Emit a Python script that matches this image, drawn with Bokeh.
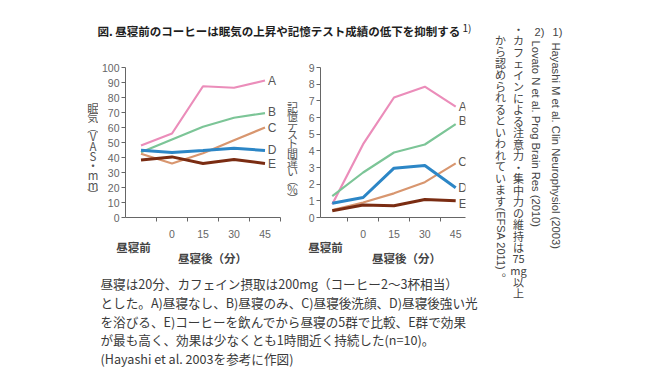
import math
from bokeh.plotting import figure
from bokeh.models import Range1d, FixedTicker, ColumnDataSource, LabelSet
from bokeh.layouts import row, column
from bokeh.core.properties import value
from bokeh.embed import file_html
from bokeh.resources import INLINE

# ---------------- data ----------------
categories = ["昼寝前", "0", "15", "30", "45"]
groups = ["A", "B", "C", "D", "E"]

sleepiness_A = [48.0, 56.0, 87.5, 86.5, 91.3]
sleepiness_B = [43.5, 52.0, 60.5, 66.5, 69.6]
sleepiness_C = [42.5, 36.0, 42.8, 51.5, 60.0]
sleepiness_D = [44.8, 43.3, 44.6, 46.2, 44.7]
sleepiness_E = [38.3, 40.4, 36.0, 38.7, 36.0]

errors_A = [0.80, 4.40, 7.20, 7.85, 6.65]
errors_B = [1.28, 2.70, 3.90, 4.38, 5.60]
errors_C = [0.45, 0.90, 1.45, 2.12, 3.25]
errors_D = [0.85, 1.20, 2.96, 3.12, 1.78]
errors_E = [0.40, 0.75, 0.70, 1.08, 1.00]

sleepiness_yticks = list(range(0, 101, 10))
errors_yticks = list(range(0, 10))

sleepiness_ylabel = ["眠", "気", "︵", "V", "A", "S", "・", "m", "m", "︶"]
errors_ylabel = ["記", "憶", "テ", "ス", "ト", "間", "違", "い", "︵", "％", "︶"]
x_title = "昼寝後（分）"

title_text = "図. 昼寝前のコーヒーは眠気の上昇や記憶テスト成績の低下を抑制する"
title_ref = "1)"

caption_lines = [
    "昼寝は20分、カフェイン摂取は200mg（コーヒー2～3杯相当）",
    "とした。A)昼寝なし、B)昼寝のみ、C)昼寝後洗顔、D)昼寝後強い光",
    "を浴びる、E)コーヒーを飲んでから昼寝の5群で比較、E群で効果",
    "が最も高く、効果は少なくとも1時間近く持続した(n=10)。",
    "(Hayashi et al. 2003を参考に作図)",
]

ref1 = "Hayashi M et al. Clin Neurophysiol (2003)"
ref2 = "Lovato N et al. Prog Brain Res (2010)"
note_col1 = ["・", "カ", "フ", "ェ", "イ", "ン", "に", "よ", "る", "注", "意", "力", "・",
             "集", "中", "力", "の", "維", "持", "は", "75", "mg", "以", "上"]
note_col2 = ["か", "ら", "認", "め", "ら", "れ", "る", "と", "い", "わ", "れ", "て", "い", "ま", "す"]
note_col2_latin = "(EFSA 2011)"
note_col2_end = "︒"

# ---------------- style / layout ----------------
colors = {"A": "#eb8dba", "B": "#7cc597", "C": "#d8966f", "D": "#2c86c6", "E": "#7a2c12"}
widths = {"A": 2.2, "B": 2.2, "C": 2.2, "D": 3.0, "E": 3.0}
JP = "Noto Sans CJK JP"
LAT = "Liberation Sans"
TXT = "#3a3a3a"
AX = "#666666"

MAIN_W = 480
SIDE_W = 169
TITLE_H = 53
CHART_TOP = TITLE_H
CHART_H = 187
STRIP_TOP = CHART_TOP + CHART_H
STRIP_H = 28
CAP_TOP = STRIP_TOP + STRIP_H
CAP_H = 111
PAGE_H = CAP_TOP + CAP_H
BT, BB = 14, 20
FRAME_TOP = CHART_TOP + BT
FRAME_BOT = CHART_TOP + CHART_H - BB
FH = FRAME_BOT - FRAME_TOP


def text_fig(w, h):
    f = figure(width=w, height=h, x_range=Range1d(0, w), y_range=Range1d(0, h),
               output_backend="svg", toolbar_location=None, min_border=0,
               x_axis_type=None, y_axis_type=None)
    f.outline_line_color = None
    f.background_fill_color = "white"
    f.border_fill_color = "white"
    return f


def put(fig, left, top, h, xs, ys, texts, font, size, color="#444444", align="center",
        style="normal", angle=0.0):
    fig.text(x=[x - left for x in xs], y=[h - (y - top) for y in ys], text=texts,
             text_font=value(font), text_font_size=size, text_color=color,
             text_align=align, text_baseline="middle", text_font_style=style, angle=angle)


def chart(series, nudges, y_max, yticks, width, frame_left_border, border_right,
          x_start, step_px):
    fw = width - frame_left_border - border_right
    x_end = x_start + fw / step_px
    p = figure(width=width, height=CHART_H, x_range=Range1d(x_start, x_end),
               y_range=Range1d(0, y_max), output_backend="svg", toolbar_location=None,
               min_border_left=frame_left_border, min_border_right=border_right,
               min_border_top=BT, min_border_bottom=BB)
    p.outline_line_color = None
    p.grid.visible = False

    xs = list(range(len(categories)))
    for g, vals in zip(groups, series):
        p.line(xs, vals, line_color=colors[g], line_width=widths[g])

    last = len(categories) - 1
    lab_src = ColumnDataSource(dict(
        x=[last] * len(groups),
        y=[s[-1] + n * y_max / FH for s, n in zip(series, nudges)],
        t=groups))
    p.add_layout(LabelSet(x="x", y="y", text="t", source=lab_src, x_offset=7,
                          text_align="center", text_baseline="middle",
                          text_font=value(LAT), text_font_size="12px", text_color="#555555"))

    p.xaxis.ticker = FixedTicker(ticks=xs[1:],
                                 minor_ticks=[i + 0.5 for i in xs if i + 0.5 <= x_end + 1e-6])
    p.xaxis.major_label_overrides = {i: categories[i] for i in xs[1:]}
    p.xaxis.major_tick_out = 0
    p.xaxis.major_tick_in = 0
    p.xaxis.minor_tick_out = 4
    p.xaxis.minor_tick_in = 0
    p.xaxis.minor_tick_line_color = AX
    p.xaxis.major_label_standoff = 8
    p.yaxis.ticker = FixedTicker(ticks=yticks)
    p.yaxis.major_tick_out = 4
    p.yaxis.major_tick_in = 0
    p.yaxis.minor_tick_line_color = None
    p.yaxis.major_label_standoff = 2
    for ax in (p.xaxis, p.yaxis):
        ax.axis_line_color = AX
        ax.major_tick_line_color = AX
        ax.major_label_text_color = "#666666"
        ax.major_label_text_font = LAT
        ax.major_label_text_font_size = "10.5px"
    return p


# chart row: [ylab1 | p1 | ylab2 | p2]
YL1_W = 98
P1_W = 185
YL2_W = 22
P2_W = MAIN_W - YL1_W - P1_W - YL2_W

yl1 = text_fig(YL1_W, CHART_H)
put(yl1, 0, CHART_TOP, CHART_H, [92.5] * len(sleepiness_ylabel),
    [103 + 12 * i for i in range(len(sleepiness_ylabel))], sleepiness_ylabel, JP, "11.5px",
    color="#555555")

p1 = chart([sleepiness_A, sleepiness_B, sleepiness_C, sleepiness_D, sleepiness_E],
           [0, 1, 0, 0, 0], 100, sleepiness_yticks, width=P1_W,
           frame_left_border=122 - YL1_W, border_right=3, x_start=-0.5, step_px=31.6)

yl2_left = YL1_W + P1_W
yl2 = text_fig(YL2_W, CHART_H)
put(yl2, yl2_left, CHART_TOP, CHART_H, [292] * len(errors_ylabel),
    [102 + 11.4 * i for i in range(len(errors_ylabel))], errors_ylabel, JP, "11px",
    color="#555555")

p2_left = yl2_left + YL2_W
p2 = chart([errors_A, errors_B, errors_C, errors_D, errors_E],
           [0, 3, 1, 0, -3], 9, errors_yticks, width=P2_W,
           frame_left_border=317 - p2_left, border_right=15,
           x_start=-12 / 31.5, step_px=31.5)

# strip under the charts: "昼寝前" and the x titles
strip = text_fig(MAIN_W, STRIP_H)
put(strip, 0, STRIP_TOP, STRIP_H, [133, 325], [246.5, 246.5], [categories[0]] * 2, JP,
    "11.5px", color="#444444", style="bold")
put(strip, 0, STRIP_TOP, STRIP_H, [212, 406], [257, 257], [x_title] * 2, JP, "11.5px",
    color="#444444", style="bold")

# title
tf = text_fig(MAIN_W, TITLE_H)
put(tf, 0, 0, TITLE_H, [97], [30], [title_text], JP, "11.5px", color="#1e1e1e",
    align="left", style="bold")
put(tf, 0, 0, TITLE_H, [462], [27], [title_ref], JP, "10px", color="#1e1e1e", align="left")

# caption
cf = text_fig(MAIN_W, CAP_H)
put(cf, 0, CAP_TOP, CAP_H, [100] * len(caption_lines),
    [283 + 18.8 * i for i in range(len(caption_lines))], caption_lines, JP, "12.6px",
    color=TXT, align="left")

# side notes (vertical writing)
sf = text_fig(SIDE_W, PAGE_H)
SL = MAIN_W
put(sf, SL, 0, PAGE_H, [557, 539], [31, 31], ["1)", "2)"], LAT, "11px")
put(sf, SL, 0, PAGE_H, [555, 535], [42, 40], [ref1, ref2], LAT, "11.2px", align="left",
    angle=-math.pi / 2)
pitch = 11.5
put(sf, SL, 0, PAGE_H, [518] * len(note_col1), [28 + i * pitch for i in range(len(note_col1))],
    note_col1, JP, "11px")
put(sf, SL, 0, PAGE_H, [500] * len(note_col2), [39 + i * pitch for i in range(len(note_col2))],
    note_col2, JP, "11px")
lat_start = 39 + (len(note_col2) - 1) * pitch + 7
put(sf, SL, 0, PAGE_H, [500], [lat_start], [note_col2_latin], LAT, "11px", align="left",
    angle=-math.pi / 2)
put(sf, SL, 0, PAGE_H, [500], [lat_start + 70], [note_col2_end], JP, "11px")

layout = row(column(tf, row(yl1, p1, yl2, p2), strip, cf), sf)
open("out.html", "w").write(file_html(layout, INLINE))
